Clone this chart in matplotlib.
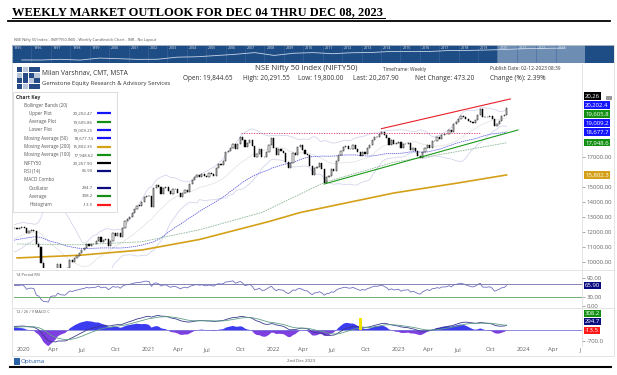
import numpy as np
import pandas as pd
import matplotlib
matplotlib.use("Agg")
import matplotlib.pyplot as plt
import matplotlib.transforms as mtransforms
from matplotlib.patches import Rectangle

plt.rcParams['font.family'] = ['Open Sans', 'DejaVu Sans']

W, H = 617, 375

# weekly closes (Fridays); 2019 only warms up the indicators
close_2019 = [10727, 10795, 10907, 10780, 10894, 10944, 10724, 10792, 10864, 11035, 11427, 11457, 11624,
              11666, 11643, 11753, 11755, 11712, 11279, 11407, 11844, 11923, 11871, 11823, 11724, 11789,
              11811, 11552, 11419, 11284, 10997, 11109, 11048, 10829, 11023, 10946, 11076, 11274, 11512,
              11175, 11305, 11662, 11584, 11891, 11908, 11895, 11914, 12056, 11922, 12087, 12272, 12246]
close_2020 = [12226, 12257, 12352, 12248, 11962, 12098, 12113, 12080, 11202, 10989, 9955, 8745, 8660,
              8084, 9112, 9267, 9154, 9860, 9252, 9137, 9039, 9580, 10142, 9973, 10244, 10383,
              10607, 10768, 10902, 11194, 11073, 11214, 11178, 11372, 11647, 11333, 11464, 11505, 11050,
              11417, 11914, 11762, 11930, 11642, 12264, 12720, 12859, 12969, 13258, 13514, 13761, 13749, 13982]
close_2021 = [14347, 14433, 14372, 13635, 14924, 15163, 14982, 14529, 14938, 15031, 14744, 14507, 14867,
              14834, 14618, 14341, 14631, 14823, 14677, 15175, 15436, 15670, 15799, 15683, 15860, 15722,
              15690, 15924, 15856, 15763, 16238, 16529, 16451, 16705, 17324, 17369, 17585, 17853, 17532,
              17895, 18339, 18115, 17672, 17916, 18102, 17765, 17026, 17197, 17511, 16985, 17004, 17354]
close_2022 = [17812, 18256, 17617, 17102, 17516, 17375, 17276, 16658, 16246, 16630, 17287, 17153, 17670,
              17784, 17476, 17172, 17103, 16411, 15782, 16266, 16352, 16584, 16202, 15294, 15699, 15752,
              16221, 16049, 16719, 17158, 17397, 17698, 17758, 17559, 17539, 17833, 17531, 17327, 17094,
              17315, 17186, 17576, 17787, 18117, 18350, 18308, 18512, 18697, 18497, 18269, 17807, 18105]
close_2023 = [17859, 17956, 18028, 17604, 17854, 17856, 17944, 17466, 17594, 17413, 17100, 16945, 17360,
              17599, 17828, 17624, 18065, 18069, 18315, 18203, 18499, 18534, 18563, 18826, 18665, 19189,
              19332, 19565, 19745, 19646, 19517, 19428, 19310, 19266, 19435, 19820, 20192, 19674, 19638,
              19654, 19751, 19542, 19047, 19231, 19425, 19732, 19795, 20268]
first_week = '2019-01-04'

# long moving averages
sma100_dates = ['2020-01-03', '2020-07-03', '2021-01-01', '2021-06-18', '2021-12-17', '2022-06-17',
                '2023-01-06', '2023-07-07', '2023-12-01']
sma100_vals = [11200, 11150, 11350, 12150, 13300, 15300, 16650, 17350, 17948.62]
sma200_dates = ['2020-01-03', '2020-07-03', '2021-01-01', '2021-06-18', '2022-01-07', '2022-04-08',
                '2023-01-06', '2023-07-07', '2023-12-01']
sma200_vals = [10270, 10450, 10800, 11500, 12700, 13300, 14600, 15250, 15802.35]

# drawn trend lines
resist_dates = ['2022-12-01', '2023-12-12']
resist_vals = [18890, 20870]
support_dates = ['2022-06-17', '2024-01-03']
support_vals = [15200, 18800]
prior_high_dates = ['2021-10-18', '2023-09-15']
prior_high_val = 18604
event_date = '2022-09-30'

price_ticks = [10000, 11000, 12000, 13000, 14000, 15000, 17000]
price_tags = [('20,26', 20267.90, '#000000'), ('20,202.4', 20202.47, '#1414ff'),
              ('19,605.8', 19605.86, '#139013'), ('19,009.2', 19009.25, '#1414ff'),
              ('18,677.7', 18677.74, '#1414ff'), ('17,948.6', 17948.62, '#139013')]
sma200_tag = ('15,802.3', 15802.35, '#d4a017')
rsi_tag = ('65.90', 65.90, '#0b0b80')
macd_tags = [('-13.5', -13.5, '#ff1a1a'), ('294.7', 294.7, '#0b0b80'), ('308.2', 308.2, '#139013')]

key_labels = ['Bollinger Bands (20)', 'Upper Plot', 'Average Plot', 'Lower Plot', 'Moving Average (50)',
              'Moving Average (200)', 'Moving Average (100)', 'NIFTY50', 'RSI (14)', 'MACD Combo',
              'Oscillator', 'Average', 'Histogram']
key_values = ['', '20,202.47', '19,605.86', '19,009.25', '18,677.74', '15,802.35', '17,948.62',
              '20,267.90', '65.90', '', '294.7', '308.2', '-13.5']
key_colors = [None, '#1414ff', '#139013', '#1414ff', '#1414ff', '#d4a017', '#139013',
              '#000000', '#0b0b80', None, '#0b0b80', '#139013', '#ff1a1a']
key_indent = [0, 1, 1, 1, 0, 0, 0, 0, 0, 0, 1, 1, 1]

header_row = [('Open: 19,844.65', 183), ('High: 20,291.55', 243), ('Low: 19,800.00', 298),
              ('Last: 20,267.90', 353), ('Net Change: 473.20', 415), ('Change (%): 2.39%', 490)]

overview_years = list(range(1995, 2024))
overview_close = [908, 899, 1079, 884, 1480, 1263, 1059, 1093, 1879, 2080, 2836, 3966, 6138, 2959, 5201,
                  6134, 4624, 5905, 6304, 8282, 7946, 8186, 10531, 10863, 12168, 13982, 17354, 18105, 20268]

# --- indicators ---
closes = pd.Series(close_2019 + close_2020 + close_2021 + close_2022 + close_2023, dtype=float)
dates = pd.date_range(first_week, periods=len(closes), freq='W-FRI')
closes.index = dates
opens = closes.shift(1).fillna(closes.iloc[0])

mid = closes.rolling(20).mean()
sd = closes.rolling(20).std(ddof=0)
bb_up, bb_lo = mid + 2 * sd, mid - 2 * sd
sma50 = closes.rolling(50).mean()

delta = closes.diff()
gain = delta.clip(lower=0).ewm(alpha=1 / 14, adjust=False).mean()
loss = (-delta.clip(upper=0)).ewm(alpha=1 / 14, adjust=False).mean()
rsi = 100 - 100 / (1 + gain / loss)

macd = closes.ewm(span=12, adjust=False).mean() - closes.ewm(span=26, adjust=False).mean()
signal = macd.ewm(span=9, adjust=False).mean()
hist = macd - signal

# --- figure ---
fig = plt.figure(figsize=(W / 100, H / 100), dpi=100)


def px_axes(x0, y0, x1, y1):
    a = fig.add_axes([x0 / W, 1 - y1 / H, (x1 - x0) / W, (y1 - y0) / H])
    for s in a.spines.values():
        s.set_visible(False)
    a.set_facecolor('none')
    return a


def stack(values, gap):
    # push overlapping tags upwards, lowest first
    order = np.argsort(values)
    out = [0.0] * len(values)
    last = -1e9
    for i in order:
        last = max(values[i], last + gap)
        out[i] = last
    return out


xmin, xmax = pd.Timestamp('2019-12-25'), pd.Timestamp('2024-07-08')
tick_col = '#666666'

# price panel
ax = px_axes(14, 64, 582, 268)
ax.set_xlim(xmin, xmax)
ax.set_ylim(9600, 23200)
up = closes >= opens
ax.bar(dates[up], (closes - opens)[up].clip(lower=20), bottom=opens[up], width=3.5,
       color='white', edgecolor='black', linewidth=0.35, zorder=4)
ax.bar(dates[~up], (opens - closes)[~up].clip(lower=20), bottom=closes[~up], width=3.5,
       color='black', edgecolor='black', linewidth=0.35, zorder=4)
ax.plot(dates, bb_up, color='#d3d6ec', lw=0.6, zorder=2)
ax.plot(dates, bb_lo, color='#d3d6ec', lw=0.6, zorder=2)
ax.plot(dates, mid, color='#e0e0e0', lw=0.5, zorder=2)
ax.plot(dates, sma50, color='#4a4ad6', lw=0.5, ls=(0, (2, 1)), zorder=3)
ax.plot(pd.to_datetime(sma100_dates), sma100_vals, color='#8fb79a', lw=0.6, ls=(0, (2, 1)), zorder=3)
ax.plot(pd.to_datetime(sma200_dates), sma200_vals, color='#d4a017', lw=1.2, zorder=3)
ax.plot(pd.to_datetime(resist_dates), resist_vals, color='#e8202a', lw=0.8, zorder=5)
ax.plot(pd.to_datetime(support_dates), support_vals, color='#1a9a1a', lw=0.8, zorder=5)
ax.plot(pd.to_datetime(prior_high_dates), [prior_high_val] * 2, color='#e0306a', lw=0.6, ls=(0, (1.5, 1.5)), zorder=5)
ax.set_xticks([])
ax.set_yticks(price_ticks)
ax.set_yticklabels([f'{v:.2f}' for v in price_ticks])
ax.tick_params(axis='y', left=False, labelleft=False, right=True, labelright=True,
               length=2, width=0.4, pad=1.5, labelsize=4.3, colors=tick_col)

ytr = mtransforms.blended_transform_factory(ax.transAxes, ax.transData)
tag_x = (585 - 14) / (582 - 14)
tag_pos = stack([t[1] for t in price_tags], 600)
for (txt, val, col), ypos in zip(price_tags, tag_pos):
    ax.text(tag_x, ypos, txt, transform=ytr, fontsize=4.3, color='white', va='center', ha='left',
            clip_on=False, zorder=8, bbox=dict(boxstyle='square,pad=0.2', fc=col, ec='none'))
ax.text(tag_x, sma200_tag[1], sma200_tag[0], transform=ytr, fontsize=4.3, color='white', va='center',
        ha='left', clip_on=False, zorder=8, bbox=dict(boxstyle='square,pad=0.2', fc=sma200_tag[2], ec='none'))

# RSI panel
ar = px_axes(14, 270, 582, 307)
ar.set_xlim(xmin, xmax)
ar.set_ylim(-1.6, 115)
ar.plot(dates, rsi, color='#7070c0', lw=0.6)
ar.axhline(70, color='#7070a8', lw=0.6)
ar.axhline(30, color='#5aa05a', lw=0.6)
ar.set_xticks([])
ar.set_yticks([0, 30, 90])
ar.set_yticklabels(['0.00', '30.00', '90.00'])
ar.tick_params(axis='y', left=False, labelleft=False, right=True, labelright=True,
               length=2, width=0.4, pad=1.5, labelsize=4.3, colors=tick_col)
rtr = mtransforms.blended_transform_factory(ar.transAxes, ar.transData)
ar.text(tag_x, rsi_tag[1], rsi_tag[0], transform=rtr, fontsize=4.3, color='white', va='center', ha='left',
        clip_on=False, bbox=dict(boxstyle='square,pad=0.2', fc=rsi_tag[2], ec='none'))
ar.text(0.004, 0.93, '14 Period RSI', transform=ar.transAxes, fontsize=2.8, color='#555555', va='top')

# MACD panel; the histogram sits on its own, larger scale
am = px_axes(14, 308, 582, 346)
am.set_xlim(xmin, xmax)
am.set_ylim(-1018, 1400)
ah = am.twinx()
for s in ah.spines.values():
    s.set_visible(False)
ah.set_ylim(-1018 / 2.2, 1400 / 2.2)
ah.fill_between(dates, 0, hist, where=hist >= 0, interpolate=True, color='#3b3bf0', lw=0)
ah.fill_between(dates, 0, hist, where=hist < 0, interpolate=True, color='#7d3fe0', lw=0)
ah.set_yticks([])
ah.set_zorder(0)
am.set_zorder(1)
am.axhline(0, color='#7a7ad8', lw=0.6)
am.plot(dates, macd, color='#3a3a90', lw=0.6)
am.plot(dates, signal, color='#5f9f86', lw=0.6)
am.bar(pd.Timestamp(event_date), 760, bottom=0, width=10, color='#f2e200', zorder=5)
am.set_yticks([-700])
am.set_yticklabels(['-700.0'])
am.tick_params(axis='y', left=False, labelleft=False, right=True, labelright=True,
               length=2, width=0.4, pad=1.5, labelsize=4.3, colors=tick_col)
xt = pd.date_range('2020-01-01', '2024-07-01', freq='QS')
xl = [str(d.year) if d.month == 1 else d.strftime('%b') for d in xt]
xl[-1] = 'J'
am.set_xticks(xt)
am.set_xticklabels(xl)
for lbl in am.get_xticklabels():
    lbl.set_ha('left')
am.tick_params(axis='x', length=0, pad=0.8, labelsize=4.3, colors=tick_col)
mtr = mtransforms.blended_transform_factory(am.transAxes, am.transData)
for (txt, val, col), ypos in zip(macd_tags, stack([t[1] for t in macd_tags], 540)):
    am.text(tag_x, ypos, txt, transform=mtr, fontsize=4.3, color='white', va='center', ha='left',
            clip_on=False, bbox=dict(boxstyle='square,pad=0.2', fc=col, ec='none'))
am.text(0.004, 0.95, '12 / 26 / 9 MACD C', transform=am.transAxes, fontsize=2.8, color='#555555', va='top')

# overview strip
ao = px_axes(12, 45, 614, 63)
ao.set_xlim(1995, 2026)
ao.set_yscale('log')
ao.set_ylim(413, 44200)
ao.axvspan(1995, 2026, color='#1e4c84', lw=0)
ao.axvspan(2020, 2024.5, color='#6d8db3', lw=0)
for yr in overview_years:
    ao.axvline(yr, color='#41679a', lw=0.4)
    ao.text(yr + 0.1, 0.97, str(yr), transform=ao.get_xaxis_transform(), fontsize=2.6,
            color='#dfe7f2', va='top')
ao.plot(np.array(overview_years) + 0.5, overview_close, color='#c8d6ea', lw=0.6)
ao.set_xticks([])
ao.set_yticks([])
ao.minorticks_off()

# overlay for frame, header and key
ov = fig.add_axes([0, 0, 1, 1])
ov.set_xlim(0, W)
ov.set_ylim(H, 0)
ov.axis('off')
ov.set_zorder(10)

ov.text(12, 12, 'WEEKLY MARKET OUTLOOK FOR DEC 04 THRU DEC 08, 2023', family='Liberation Serif',
        weight='bold', fontsize=9.0, va='center', ha='left')
ov.plot([12, 385], [18.3, 18.3], color='black', lw=0.7)
ov.plot([8, 610], [20.5, 20.5], color='black', lw=1.3)
ov.text(14, 40, 'NSE Nifty 50 Index - (NIFTY50.INX) - Weekly Candlestick Chart - INR - No Layout',
        fontsize=2.8, color='#555555', va='center')

frame = '#d9d9d9'
ov.add_patch(Rectangle((12, 45), 602, 311, fill=False, ec=frame, lw=0.5))
ov.plot([12, 614], [269.5, 269.5], color=frame, lw=0.5)
ov.plot([12, 614], [307.5, 307.5], color=frame, lw=0.5)
ov.plot([582, 582], [64, 346], color=frame, lw=0.5)

# logo
logo = ['1011', '0110', '1101', '1011']
for r, row in enumerate(logo):
    for c_, bit in enumerate(row):
        ov.add_patch(Rectangle((17 + c_ * 5.8, 67 + r * 5.6), 5.1, 4.9, lw=0,
                               fc='#254a86' if bit == '1' else '#b9c6da'))
ov.text(42, 73, 'Milan Varshnav, CMT, MSTA', fontsize=4.8, color='#333333', va='center')
ov.text(42, 83, 'Gemstone Equity Research & Advisory Services', fontsize=4.2, color='#333333', va='center')

ov.text(255, 69, 'NSE Nifty 50 Index (NIFTY50)', fontsize=5.6, color='#333333', va='center')
ov.text(383, 69, 'Timeframe: Weekly', fontsize=3.5, color='#333333', va='center')
ov.text(490, 69, 'Publish Date: 02-12-2023 08:39', fontsize=3.5, color='#333333', va='center')
for txt, xpos in header_row:
    ov.text(xpos, 78.5, txt, fontsize=4.7, color='#333333', va='center')

# lock icon beside the last price tag
ov.add_patch(Rectangle((606, 95.5), 6, 4.5, fc='#9a9a9a', lw=0))

# chart key
ov.add_patch(Rectangle((13, 92), 104, 120, fc='white', ec='#cfcfcf', lw=0.5))
ov.text(16, 97, 'Chart Key', fontsize=3.6, weight='bold', color='#333333', va='center')
for i, (lab, val, col, ind) in enumerate(zip(key_labels, key_values, key_colors, key_indent)):
    yy = 105 + i * 8.3
    ov.text(24 + 5 * ind, yy, lab, fontsize=3.3, color='#555555', va='center')
    if val:
        ov.text(93, yy, val, fontsize=3.2, color='#555555', va='center', ha='right')
    if col:
        ov.plot([97, 111], [yy, yy], color=col, lw=1.6, solid_capstyle='butt')

# footer
ov.add_patch(Rectangle((14, 357.5), 6, 7, fc='#2a62a8', lw=0))
ov.text(21, 361, 'Optuma', fontsize=4.6, color='#2a62a8', va='center')
ov.text(301, 361, '2nd Dec 2023', fontsize=3.2, color='#555555', va='center', ha='center')
ov.plot([10, 611], [367, 367], color='black', lw=1.5)

fig.savefig('out.png', dpi=100, facecolor='white')
